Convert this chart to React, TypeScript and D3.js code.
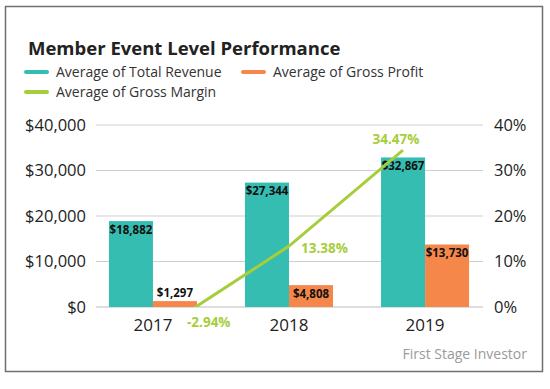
import React, { useEffect, useRef } from 'react'
import * as d3 from 'd3'

const years = ['2017', '2018', '2019']
const totalRevenue = [18882, 27344, 32867]
const grossProfit = [1297, 4808, 13730]
const grossMargin = [-2.94, 13.38, 34.47]
const leftTicks = [0, 10000, 20000, 30000, 40000]
const rightTicks = [0, 10, 20, 30, 40]

const TEAL = '#36bdb2'
const ORANGE = '#f5874a'
const GREEN = '#a8cd3c'
const FONT = "'Open Sans', sans-serif"

export default function App() {
  const ref = useRef<SVGSVGElement>(null)

  useEffect(() => {
    const svg = d3.select(ref.current)
    svg.selectAll('*').remove()

    // chart frame
    svg.append('rect')
      .attr('x', 5.5).attr('y', 6.5).attr('width', 537).attr('height', 365)
      .attr('fill', '#fff').attr('stroke', '#6f6f6f').attr('stroke-width', 1.5)

    const y = d3.scaleLinear().domain([0, 40000]).range([307, 125])
    const y2 = d3.scaleLinear().domain([0, 40]).range([307, 125])
    const x = d3.scaleBand().domain(years).range([85, 493]).paddingInner(0.353).paddingOuter(0.176)
    const xs = d3.scaleBand().domain(['rev', 'gp']).range([0, x.bandwidth()])
    const xl = d3.scalePoint().domain(years).range([175, 403])

    // gridlines
    svg.append('g').selectAll('line').data(leftTicks).join('line')
      .attr('x1', 96).attr('x2', 483)
      .attr('y1', d => y(d)).attr('y2', d => y(d))
      .attr('stroke', d => d === 0 ? '#bdbdbd' : '#cfcfcf').attr('stroke-width', 1)

    // left axis labels
    svg.append('g').selectAll('text').data(leftTicks).join('text')
      .attr('x', 86).attr('y', d => y(d)).attr('dy', '0.35em')
      .attr('text-anchor', 'end').attr('font-family', FONT).attr('font-size', 16.5)
      .attr('fill', '#222')
      .text(d => '$' + d3.format(',')(d))

    // right axis labels
    svg.append('g').selectAll('text').data(rightTicks).join('text')
      .attr('x', 494).attr('y', d => y2(d)).attr('dy', '0.35em')
      .attr('font-family', FONT).attr('font-size', 16.5).attr('fill', '#222')
      .text(d => d + '%')

    // year labels
    svg.append('g').selectAll('text').data(years).join('text')
      .attr('x', d => x(d)! + x.bandwidth() / 2).attr('y', 331)
      .attr('text-anchor', 'middle').attr('font-family', FONT).attr('font-size', 17)
      .attr('fill', '#222')
      .text(d => d)

    const rows = years.map((yr, i) => ({ yr, rev: totalRevenue[i], gp: grossProfit[i], gm: grossMargin[i] }))

    // bars
    const g = svg.append('g')
    g.selectAll('rect.rev').data(rows).join('rect')
      .attr('x', d => x(d.yr)! + xs('rev')!).attr('width', xs.bandwidth())
      .attr('y', d => y(d.rev)).attr('height', d => y(0) - y(d.rev))
      .attr('fill', TEAL)
    g.selectAll('rect.gp').data(rows).join('rect')
      .attr('x', d => x(d.yr)! + xs('gp')!).attr('width', xs.bandwidth())
      .attr('y', d => y(d.gp)).attr('height', d => y(0) - y(d.gp))
      .attr('fill', ORANGE)

    const money = (v: number) => '$' + d3.format(',')(v)

    // bar labels (inside end, or above when the bar is too short)
    g.selectAll('text.rl').data(rows).join('text')
      .attr('x', d => x(d.yr)! + xs('rev')! + xs.bandwidth() / 2)
      .attr('y', d => y(d.rev) + 12.5)
      .attr('text-anchor', 'middle').attr('font-family', FONT).attr('font-weight', 'bold')
      .attr('font-size', 11.5).attr('fill', '#111')
      .text(d => money(d.rev))
    g.selectAll('text.gl').data(rows).join('text')
      .attr('x', d => x(d.yr)! + xs('gp')! + xs.bandwidth() / 2)
      .attr('y', d => (y(0) - y(d.gp) < 20 ? y(d.gp) - 4 : y(d.gp) + 12.5))
      .attr('text-anchor', 'middle').attr('font-family', FONT).attr('font-weight', 'bold')
      .attr('font-size', 11.5).attr('fill', '#111')
      .text(d => money(d.gp))

    // gross margin line, clipped to plot area
    svg.append('clipPath').attr('id', 'plotclip')
      .append('rect').attr('x', 85).attr('y', 100).attr('width', 410).attr('height', 207)
    const line = d3.line<typeof rows[0]>().x(d => xl(d.yr)!).y(d => y2(d.gm))
    svg.append('path')
      .datum(rows)
      .attr('clip-path', 'url(#plotclip)')
      .attr('fill', 'none').attr('stroke', GREEN).attr('stroke-width', 3)
      .attr('d', line)

    // margin labels
    const gmLabel = svg.append('g').attr('font-family', FONT).attr('font-weight', 'bold')
      .attr('font-size', 13.5).attr('fill', GREEN)
    gmLabel.selectAll('text').data(rows).join('text')
      .attr('x', (d, i) => i === 2 ? xl(d.yr)! - 7 : xl(d.yr)! + 12)
      .attr('y', (d, i) => i === 2 ? y2(d.gm) - 6 : y2(d.gm) + 2)
      .attr('dy', (d, i) => i === 2 ? 0 : '0.35em')
      .attr('text-anchor', (d, i) => i === 2 ? 'middle' : 'start')
      .text(d => d.gm.toFixed(2) + '%')

    // title
    svg.append('text')
      .attr('x', 28).attr('y', 55)
      .attr('font-family', FONT).attr('font-weight', 'bold').attr('font-size', 18.5)
      .attr('fill', '#222')
      .text('Member Event Level Performance')

    // legend
    const legend = [
      { name: 'Average of Total Revenue', color: TEAL, x: 26, y: 72 },
      { name: 'Average of Gross Profit', color: ORANGE, x: 243, y: 72 },
      { name: 'Average of Gross Margin', color: GREEN, x: 26, y: 92 },
    ]
    const lg = svg.append('g').selectAll('g').data(legend).join('g')
      .attr('transform', d => `translate(${d.x},${d.y})`)
    lg.append('line').attr('x1', 0).attr('x2', 21)
      .attr('stroke', d => d.color).attr('stroke-width', 4).attr('stroke-linecap', 'round')
    lg.append('text').attr('x', 30).attr('dy', '0.35em')
      .attr('font-family', FONT).attr('font-size', 14).attr('fill', '#333')
      .text(d => d.name)

    // source
    svg.append('text')
      .attr('x', 527).attr('y', 359).attr('text-anchor', 'end')
      .attr('font-family', FONT).attr('font-size', 14).attr('fill', '#9a9a9a')
      .text('First Stage Investor')
  }, [])

  return (
    <svg ref={ref} width={550} height={389}
      style={{ position: 'absolute', left: 0, top: 0, background: '#fff' }} />
  )
}
